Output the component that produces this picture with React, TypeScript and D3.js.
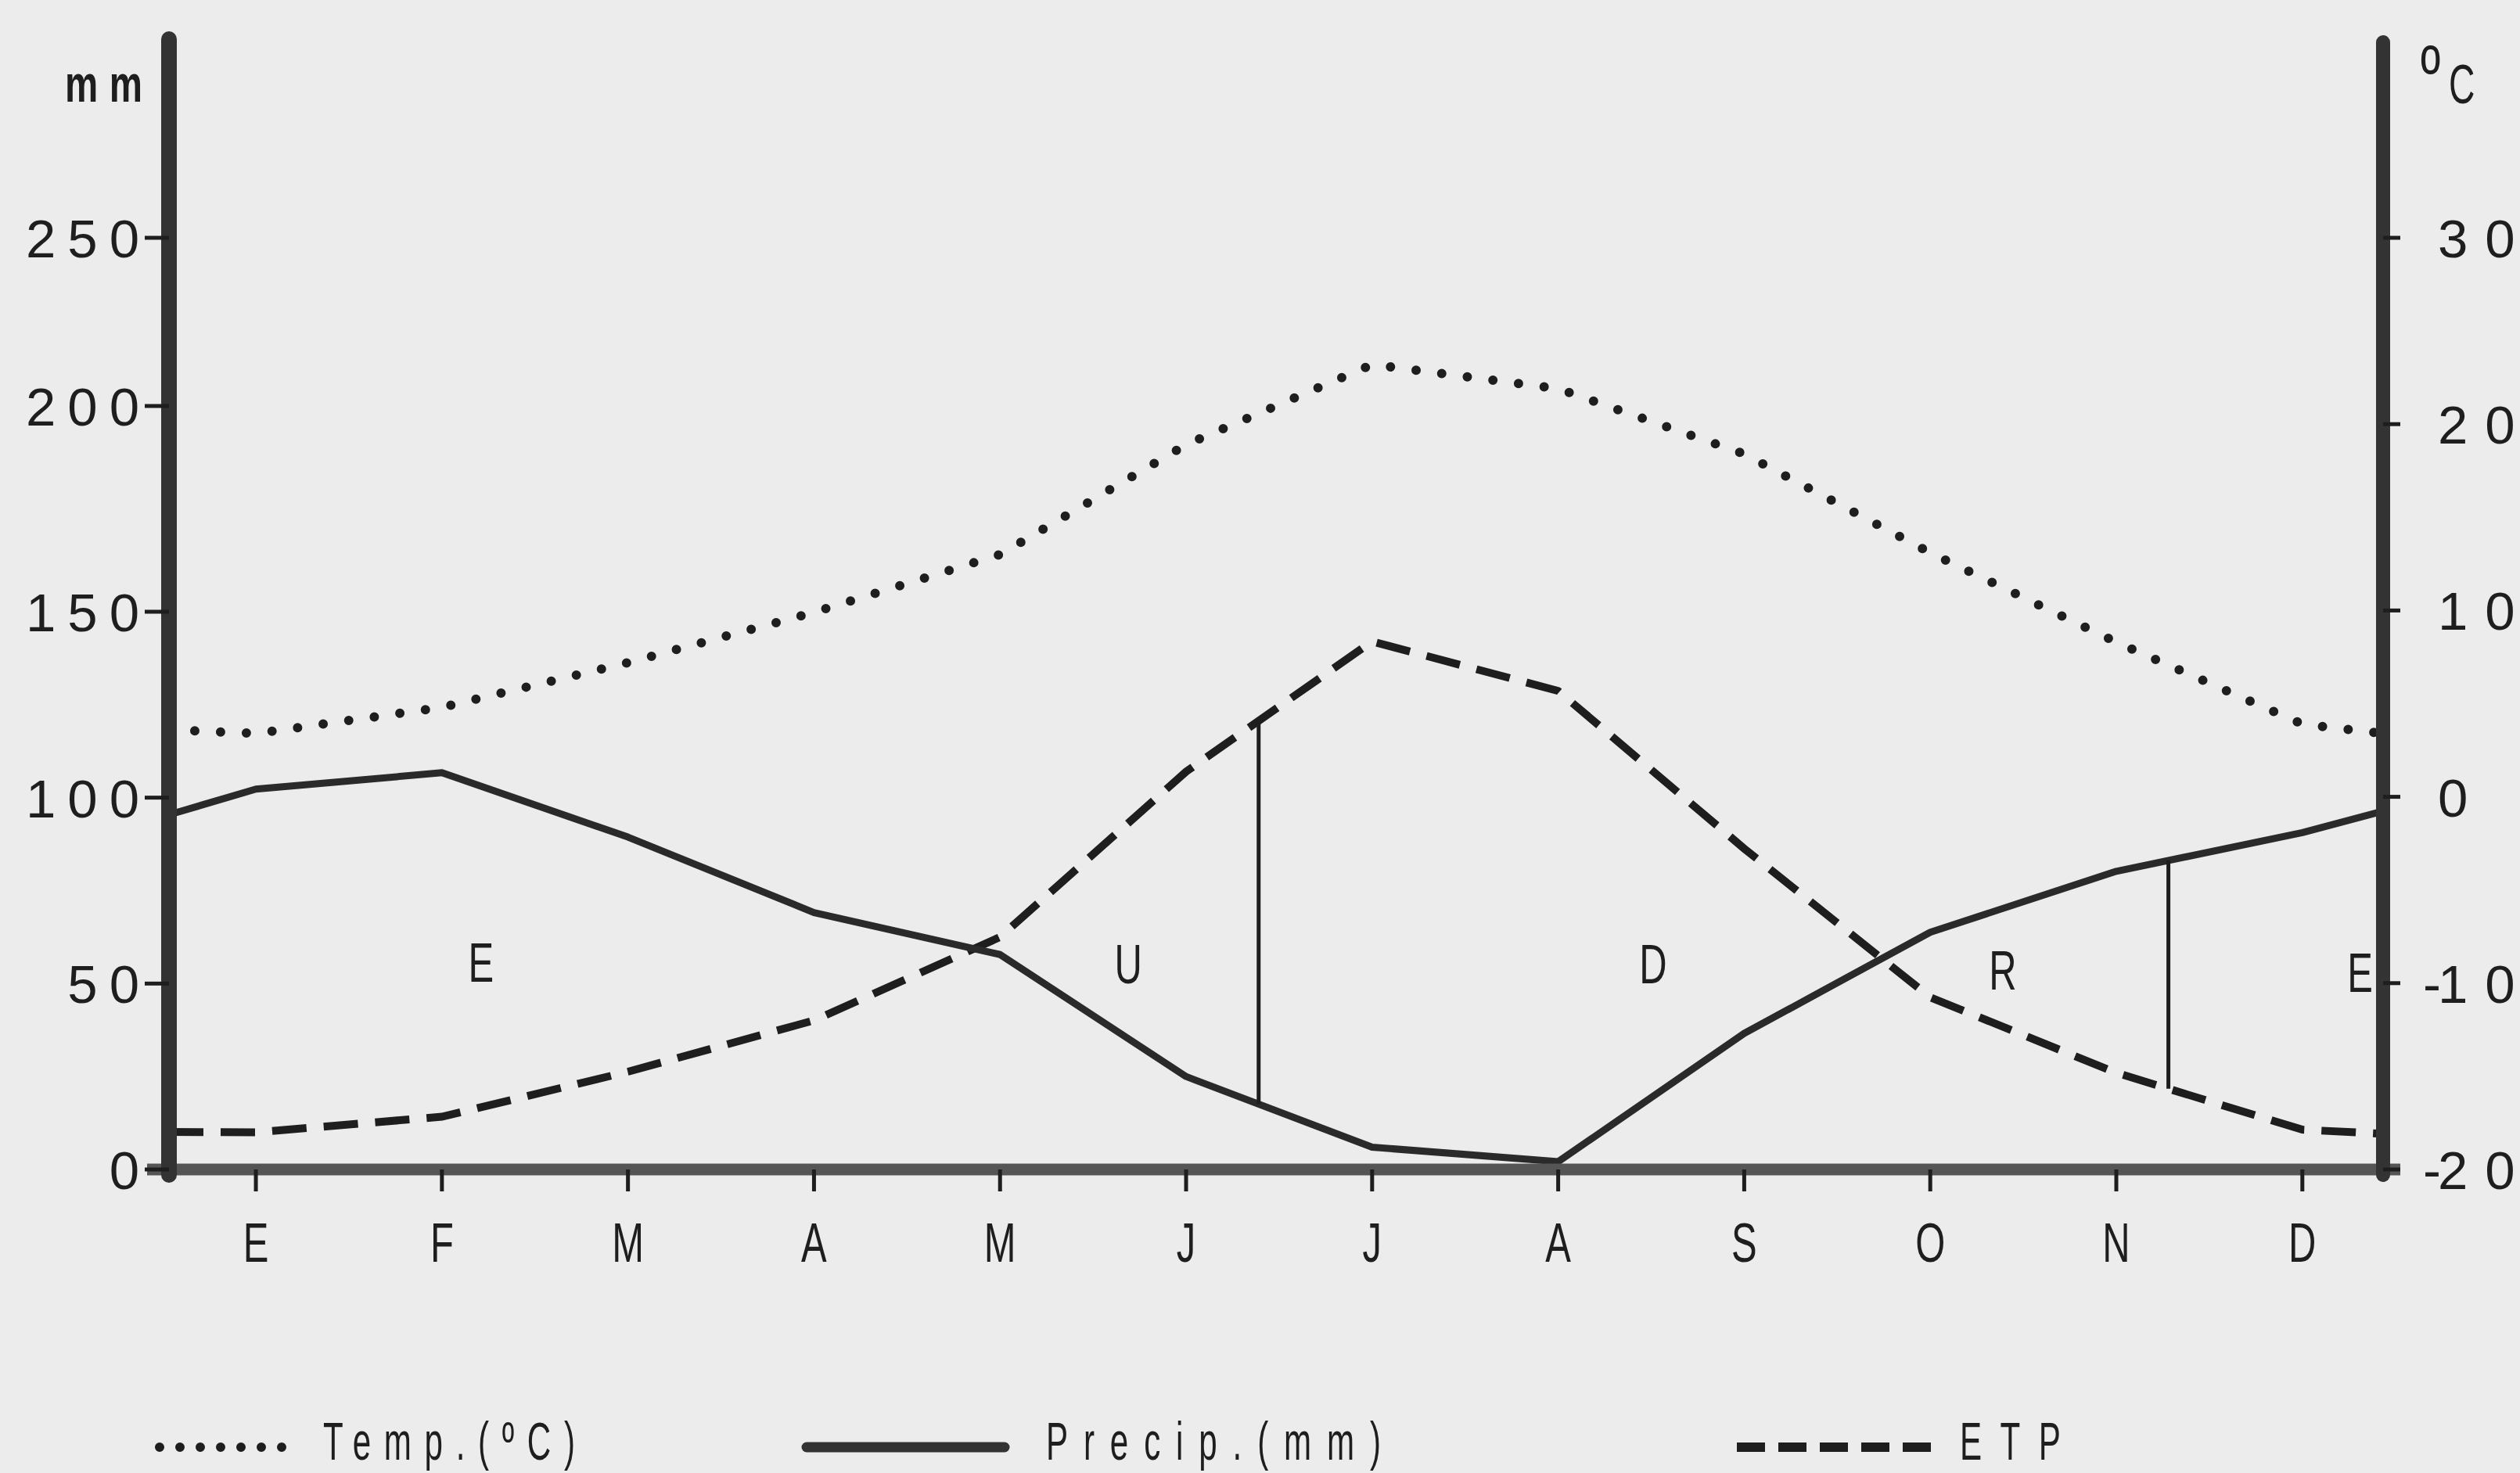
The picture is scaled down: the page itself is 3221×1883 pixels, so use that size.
import React from "react";
import * as d3 from "d3";

// ---- data ----
const months = ["E", "F", "M", "A", "M", "J", "J", "A", "S", "O", "N", "D"];
const temperature = [3.4, 4.8, 7.2, 9.9, 13.0, 18.9, 23.2, 21.9, 18.4, 13.1, 8.3, 3.9];
const temperatureEdges = [3.6, 3.4];
const precipitation = [102.3, 106.7, 89.4, 69.1, 57.8, 25.0, 6.0, 2.1, 36.6, 63.8, 80.2, 90.6];
const precipitationEdges = [95.4, 96.4];
const etp = [10.0, 14.2, 26.3, 40.1, 62.5, 107, 142, 128.7, 86.3, 46.3, 26.0, 10.7];
const etpEdges = [10.1, 9.6];
const mmTicks = [0, 50, 100, 150, 200, 250];
const tempTicks = [-20, -10, 0, 10, 20, 30];
const regionLabels = [
  { label: "E", pos: 1.21, mm: 55.8 },
  { label: "U", pos: 4.69, mm: 55.3 },
  { label: "D", pos: 7.51, mm: 55.3 },
  { label: "R", pos: 9.39, mm: 53.7 },
  { label: "E", pos: 11.31, mm: 53.0 },
];
const dividers = [5.39, 10.28];
const legendItems = [
  { label: "Temp.(ºC)", kind: "dot" },
  { label: "Precip.(mm)", kind: "solid" },
  { label: "ETP", kind: "dash" },
];

// ---- layout ----
const W = 3221;
const H = 1883;
const INK = "#1e1e1e";
const BG = "#ececec";
const FONT = "'Liberation Sans', Arial, Helvetica, sans-serif";
const TICK_SIZE = 69;
const DIGIT_ADV = 0.556 * TICK_SIZE;

const x = d3.scaleLinear().domain([-0.467, 11.434]).range([216, 3046]);
const yMm = d3.scaleLinear().domain([0, 150, 200, 250]).range([1495, 782, 519, 304]);
const yT = d3.scaleLinear().domain([-20, 30]).range([1495, 304]);

type Pt = { i: number; v: number };
function series(vals: number[], edges: number[]): Pt[] {
  const [d0, d1] = x.domain();
  return [{ i: d0, v: edges[0] }, ...vals.map((v, i) => ({ i, v })), { i: d1, v: edges[1] }];
}
function interp(pts: Pt[], i: number) {
  for (let k = 0; k < pts.length - 1; k++) {
    const a = pts[k], b = pts[k + 1];
    if (i >= a.i && i <= b.i) return a.v + ((i - a.i) / (b.i - a.i)) * (b.v - a.v);
  }
  return pts[pts.length - 1].v;
}

const tempPts = series(temperature, temperatureEdges);
const precPts = series(precipitation, precipitationEdges);
const etpPts = series(etp, etpEdges);

const lineMm = d3.line<Pt>().x((d) => x(d.i)).y((d) => yMm(d.v));
const lineT = d3.line<Pt>().x((d) => x(d.i)).y((d) => yT(d.v));

function CondText(props: {
  x: number; y: number; text: string; size: number; sx: number;
  anchor?: string; width?: number; weight?: string; spacing?: number;
}) {
  const { x: tx, y: ty, text, size, sx, anchor = "middle", width, weight = "normal", spacing } = props;
  const extra: any = {};
  if (width) {
    extra.textLength = width / sx;
    extra.lengthAdjust = "spacing";
  }
  return (
    <text
      transform={`translate(${tx},${ty}) scale(${sx},1)`}
      textAnchor={anchor}
      fontFamily={FONT}
      fontSize={size}
      fontWeight={weight}
      fill={INK}
      letterSpacing={spacing}
      {...extra}
    >
      {text}
    </text>
  );
}

// digits placed one by one with a gap, no trailing space
function SpacedDigits(props: { x0: number; y: number; text: string; gap: number }) {
  const { x0, y, text, gap } = props;
  const chars = text.split("");
  return (
    <text y={y} fontFamily={FONT} fontSize={TICK_SIZE} fill={INK}>
      {chars.map((c, k) => (
        <tspan key={k} x={x0 + k * (DIGIT_ADV + gap)}>{c}</tspan>
      ))}
    </text>
  );
}

export default function App() {
  const [xl, xr] = x.range();
  const base = yMm(0);
  const legendGeom = [
    { x0: 204, x1: 386, tx: 413, tw: 322 },
    { x0: 1031, x1: 1284, tx: 1337, tw: 428 },
    { x0: 2220, x1: 2468, tx: 2505, tw: 129 },
  ];
  const leftGap = 15;
  const rightGap = 22;
  return (
    <svg
      width={W}
      height={H}
      viewBox={`0 0 ${W} ${H}`}
      style={{ position: "absolute", left: 0, top: 0, display: "block" }}
    >
      <rect x={0} y={0} width={W} height={H} fill={BG} />

      {/* data lines */}
      <path d={lineT(tempPts) || ""} fill="none" stroke={INK} strokeWidth={12}
        strokeDasharray="0 33" strokeLinecap="round" />
      <path d={lineMm(etpPts) || ""} fill="none" stroke={INK} strokeWidth={10}
        strokeDasharray="44 22" />
      <path d={lineMm(precPts) || ""} fill="none" stroke="#2a2a2a" strokeWidth={9}
        strokeLinejoin="round" />

      {/* dividers */}
      {dividers.map((p, k) => {
        const a = yMm(interp(etpPts, p));
        const b = yMm(interp(precPts, p));
        return <line key={k} x1={x(p)} x2={x(p)} y1={a} y2={b} stroke={INK} strokeWidth={5} />;
      })}

      {/* region labels */}
      {regionLabels.map((r, k) => (
        <CondText key={k} x={x(r.pos)} y={yMm(r.mm) + 25} text={r.label} size={70} sx={0.7} />
      ))}

      {/* axes */}
      <line x1={188} x2={3068} y1={base} y2={base} stroke="#555" strokeWidth={15} />
      <line x1={xl} x2={xl} y1={50} y2={base + 7} stroke="#333" strokeWidth={20} strokeLinecap="round" />
      <line x1={xr} x2={xr} y1={54} y2={base + 7} stroke="#333" strokeWidth={18} strokeLinecap="round" />

      {/* left ticks + labels */}
      {mmTicks.map((t) => {
        const s = String(t);
        const w = s.length * DIGIT_ADV + (s.length - 1) * leftGap;
        return (
          <g key={`l${t}`}>
            <line x1={185} x2={xl} y1={yMm(t)} y2={yMm(t)} stroke={INK} strokeWidth={5} />
            <SpacedDigits x0={178 - w} y={yMm(t) + 25} text={s} gap={leftGap} />
          </g>
        );
      })}
      {/* right ticks + labels */}
      {tempTicks.map((t) => (
        <g key={`r${t}`}>
          <line x1={xr} x2={3068} y1={yT(t)} y2={yT(t)} stroke={INK} strokeWidth={5} />
          {t < 0 && (
            <text x={3120} y={yT(t) + 25} textAnchor="end" fontFamily={FONT} fontSize={TICK_SIZE} fill={INK}>-</text>
          )}
          <SpacedDigits x0={3116} y={yT(t) + 25} text={String(Math.abs(t))} gap={rightGap} />
        </g>
      ))}

      {/* unit labels */}
      <CondText x={83} y={130} text="mm" size={66} sx={0.72} anchor="start" weight="bold" spacing={20} />
      <CondText x={3094} y={126} text="º" size={96} sx={0.72} anchor="start" />
      <CondText x={3130} y={132} text="C" size={70} sx={0.66} anchor="start" />

      {/* month ticks + labels */}
      {months.map((m, i) => (
        <g key={`m${i}`}>
          <line x1={x(i)} x2={x(i)} y1={base} y2={1523} stroke={INK} strokeWidth={5} />
          <CondText x={x(i)} y={1613} text={m} size={70} sx={0.7} />
        </g>
      ))}

      {/* legend */}
      {legendItems.map((it, k) => {
        const g = legendGeom[k];
        const ly = 1850;
        return (
          <g key={`lg${k}`}>
            {it.kind === "dot" && (
              <line x1={g.x0} x2={g.x1} y1={ly} y2={ly} stroke={INK} strokeWidth={12}
                strokeDasharray="0 26" strokeLinecap="round" />
            )}
            {it.kind === "solid" && (
              <line x1={g.x0} x2={g.x1} y1={ly} y2={ly} stroke="#333" strokeWidth={13} strokeLinecap="round" />
            )}
            {it.kind === "dash" && (
              <line x1={g.x0} x2={g.x1} y1={ly} y2={ly} stroke={INK} strokeWidth={12}
                strokeDasharray="36 17" />
            )}
            <CondText x={g.tx} y={1866} text={it.label} size={68} sx={0.62} anchor="start" width={g.tw} />
          </g>
        );
      })}
    </svg>
  );
}
